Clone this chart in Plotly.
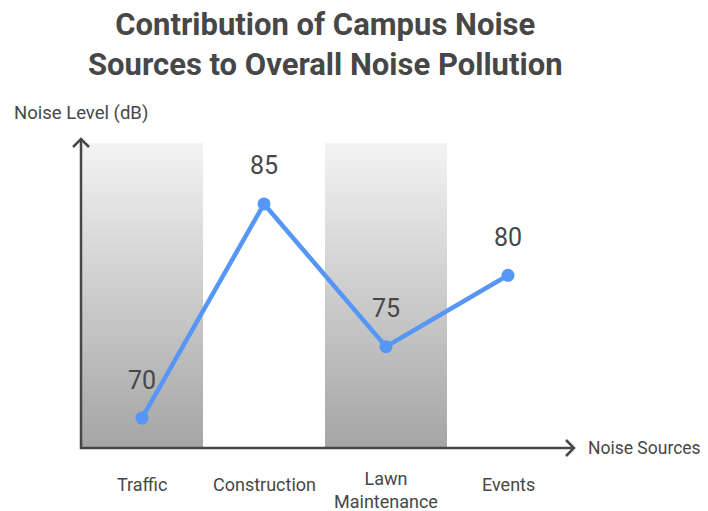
import plotly.graph_objects as go

categories = ["Traffic", "Construction", "Lawn Maintenance", "Events"]
tick_labels = ["Traffic", "Construction", "Lawn<br>Maintenance", "Events"]
noise_db = [70, 85, 75, 80]
shaded = [0, 2]

W, H = 708, 511
L, R, T, B = 81, 575, 138, 448
y0, y1 = 67.9, 89.62
x0 = -0.5
x1 = x0 + (R - L) / 122.0
band_top = 89.27

def px(x):
    return (x - L) / (R - L)

def py(y):
    return (B - y) / (B - T)

fig = go.Figure()

for i in shaded:
    fig.add_trace(go.Scatter(
        x=[i - 0.5, i + 0.5, i + 0.5, i - 0.5, i - 0.5],
        y=[y0, y0, band_top, band_top, y0],
        mode="none", fill="toself",
        fillgradient=dict(type="vertical",
                          colorscale=[[0, "#a5a5a5"], [1, "#f3f3f3"]]),
        hoverinfo="skip", showlegend=False))

fig.add_trace(go.Scatter(
    x=list(range(len(categories))), y=noise_db, mode="lines+markers",
    line=dict(color="#5596f6", width=4.5),
    marker=dict(color="#5596f6", size=13),
    showlegend=False, hoverinfo="skip"))

annotations = []
for i, v in enumerate(noise_db):
    annotations.append(dict(x=i, y=v, xref="x", yref="y", text=str(v),
                            showarrow=False, yshift=38,
                            font=dict(size=25, color="#474747")))
for i, t in enumerate(tick_labels):
    two = "<br>" in t
    annotations.append(dict(x=i, y=y0, xref="x", yref="y", text=t,
                            showarrow=False, yanchor="middle",
                            yshift=-42 if two else -36,
                            font=dict(size=18, color="#474747")))

annotations.append(dict(x=px(325), y=py(45), xref="paper", yref="paper",
                        text="<b>Contribution of Campus Noise<br>Sources to Overall Noise Pollution</b>",
                        showarrow=False, xanchor="center", yanchor="middle",
                        font=dict(size=31, color="#474747", family="Roboto")))
annotations.append(dict(x=px(12), y=py(113), xref="paper", yref="paper",
                        text="Noise Level (dB)", showarrow=False,
                        xanchor="left", yanchor="middle",
                        font=dict(size=18.5, color="#474747")))
annotations.append(dict(x=px(586), y=py(448), xref="paper", yref="paper",
                        text="Noise Sources", showarrow=False,
                        xanchor="left", yanchor="middle",
                        font=dict(size=17.5, color="#474747")))

axis_col = "#474747"
shapes = [
    dict(type="line", xref="paper", yref="paper", x0=px(81), y0=py(449), x1=px(81), y1=py(139),
         line=dict(color=axis_col, width=2.5)),
    dict(type="line", xref="paper", yref="paper", x0=px(80), y0=py(448), x1=px(574), y1=py(448),
         line=dict(color=axis_col, width=2.5)),
    dict(type="path", xref="paper", yref="paper",
         path=f"M {px(73)},{py(147)} L {px(81)},{py(139)} L {px(89)},{py(147)}",
         line=dict(color=axis_col, width=2.5)),
    dict(type="path", xref="paper", yref="paper",
         path=f"M {px(566)},{py(440)} L {px(574)},{py(448)} L {px(566)},{py(456)}",
         line=dict(color=axis_col, width=2.5)),
]

fig.update_layout(
    width=W, height=H,
    margin=dict(l=L, r=W - R, t=T, b=H - B),
    paper_bgcolor="white", plot_bgcolor="white",
    font=dict(family="Roboto", color="#474747"),
    xaxis=dict(range=[x0, x1], visible=False, fixedrange=True),
    yaxis=dict(range=[y0, y1], visible=False, fixedrange=True),
    annotations=annotations, shapes=shapes,
    showlegend=False,
)

fig.write_html("out.html", config={"displayModeBar": False},
               post_script="document.body.style.margin='0';document.body.style.overflow='hidden';")
